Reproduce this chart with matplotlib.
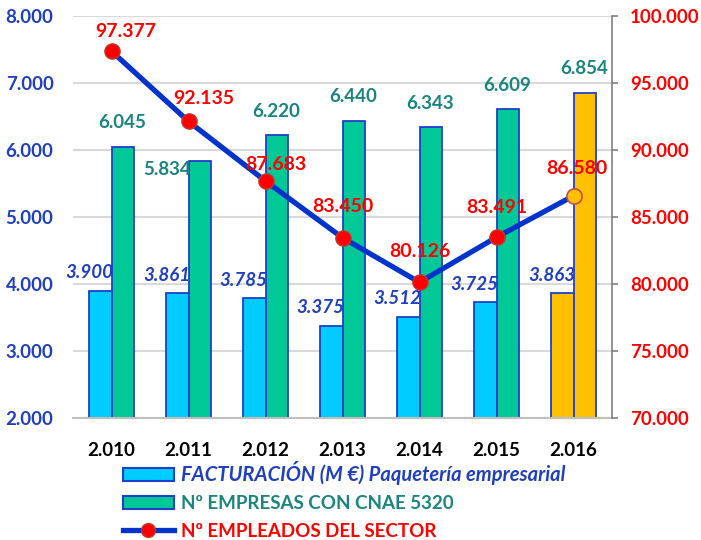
import matplotlib
matplotlib.use("Agg")
import matplotlib.pyplot as plt
from matplotlib.patches import Patch
from matplotlib.lines import Line2D
import numpy as np

years = ["2.010", "2.011", "2.012", "2.013", "2.014", "2.015", "2.016"]
facturacion = [3900, 3861, 3785, 3375, 3512, 3725, 3863]
empresas = [6045, 5834, 6220, 6440, 6343, 6609, 6854]
empleados = [97377, 92135, 87683, 83450, 80126, 83491, 86580]
left_ticks = [2000, 3000, 4000, 5000, 6000, 7000, 8000]
right_ticks = [70000, 75000, 80000, 85000, 90000, 95000, 100000]

label_fact = "FACTURACIÓN (M €) Paquetería empresarial"
label_emp = "Nº EMPRESAS CON CNAE 5320"
label_empl = "Nº EMPLEADOS DEL SECTOR"


def fmt(v):
    return f"{v:,.0f}".replace(",", ".")


plt.rcParams['font.family'] = ['Lato', 'DejaVu Sans']
plt.rcParams['font.weight'] = 'bold'

C_LBLUE = "#00CCFF"
C_GREEN = "#00C896"
C_ORANGE = "#FFC000"
C_EDGE = "#1F3FCC"
C_LINE = "#0033CC"
C_RED = "#FF0000"
C_TEAL = "#1A847E"
C_BLUE_TXT = "#1F3FBF"

fig = plt.figure(figsize=(7.01, 5.40), dpi=100)
ax = fig.add_axes([73 / 701, 1 - 418 / 540, (612 - 73) / 701, (418 - 16) / 540])
ax2 = ax.twinx()

x = np.arange(len(years))
w = 0.286
n = len(years)
fact_colors = [C_LBLUE] * (n - 1) + [C_ORANGE]
emp_colors = [C_GREEN] * (n - 1) + [C_ORANGE]

ax.bar(x - w / 2, facturacion, w, color=fact_colors, edgecolor=C_EDGE, linewidth=1.3, zorder=2)
ax.bar(x + w / 2, empresas, w, color=emp_colors, edgecolor=C_EDGE, linewidth=1.3, zorder=2)

ax.set_xlim(-0.5, n - 0.5)
ax.set_ylim(2000, 8000)
ax.set_yticks(left_ticks)
ax.set_yticklabels([fmt(v) for v in left_ticks], color=C_BLUE_TXT, fontsize=13.5, fontweight='bold')
ax.tick_params(axis='y', length=0, pad=14)
ax.set_xticks(x)
ax.set_xticklabels(years, fontsize=13.5, fontweight='bold', color='black')
ax.tick_params(axis='x', length=0, pad=17)
ax.yaxis.grid(True, color="#D9D9D9", linewidth=1.5, zorder=0)
ax.set_axisbelow(True)
for s in ['top', 'left', 'right']:
    ax.spines[s].set_visible(False)
ax.spines['bottom'].set_color("#BFBFBF")
ax.spines['bottom'].set_linewidth(1.5)

# labels facturación
for i, v in enumerate(facturacion):
    ax.annotate(fmt(v), (x[i] - w / 2, v), xytext=(-11, 18), textcoords='offset pixels',
                ha='center', va='center', fontsize=13.5, fontweight='bold', style='italic',
                color=C_BLUE_TXT, zorder=5)

# labels empresas
emp_off = [(0, 24)] * n
emp_off[1] = (-32, -8)
for i, v in enumerate(empresas):
    ax.annotate(fmt(v), (x[i] + w / 2, v), xytext=emp_off[i], textcoords='offset pixels',
                ha='center', va='center', fontsize=13.5, fontweight='bold',
                color=C_TEAL, zorder=5)

# line
ax2.set_ylim(70000, 100000)
ax2.plot(x, empleados, color=C_LINE, linewidth=3.8, zorder=3)
ax2.scatter(x[:-1], empleados[:-1], s=120, color=C_RED, edgecolors="#C0392B", linewidths=1.0, zorder=4)
ax2.scatter(x[-1:], empleados[-1:], s=120, color=C_ORANGE, edgecolors="#C0504D", linewidths=1.2, zorder=4)
line_off = [(14, 20), (15, 23), (10, 17), (0, 31), (0, 31), (0, 30), (3, 27)]
for i, v in enumerate(empleados):
    ax2.annotate(fmt(v), (x[i], v), xytext=line_off[i], textcoords='offset pixels',
                 ha='center', va='center', fontsize=14, fontweight='bold',
                 color=C_RED, zorder=6)

ax2.set_yticks(right_ticks)
ax2.set_yticklabels([fmt(v) for v in right_ticks], color=C_RED, fontsize=13.5, fontweight='bold')
ax2.tick_params(axis='y', length=4, width=1.2, color="#808080", pad=9)
for s in ['top', 'left', 'bottom']:
    ax2.spines[s].set_visible(False)
ax2.spines['right'].set_color("#808080")
ax2.spines['right'].set_linewidth(1.2)

handles = [
    Patch(facecolor=C_LBLUE, edgecolor=C_EDGE, linewidth=1.5),
    Patch(facecolor=C_GREEN, edgecolor=C_EDGE, linewidth=1.5),
    Line2D([0], [0], color=C_LINE, linewidth=3.8, marker='o', markersize=10,
           markerfacecolor=C_RED, markeredgecolor="#C0392B"),
]
leg = fig.legend(handles, [label_fact, label_emp, label_empl], loc='upper left',
                 bbox_to_anchor=(123 / 701, 1 - 461 / 540), frameon=False,
                 fontsize=13.5, handlelength=2.7, handleheight=0.7, handletextpad=0.4,
                 labelspacing=0.55, borderpad=0, borderaxespad=0)
txt_colors = [C_BLUE_TXT, C_TEAL, C_RED]
for t, c in zip(leg.get_texts(), txt_colors):
    t.set_color(c)
    t.set_fontweight('bold')
leg.get_texts()[0].set_style('italic')
leg.get_texts()[0].set_fontsize(14.5)

fig.savefig("out.png", dpi=100)
